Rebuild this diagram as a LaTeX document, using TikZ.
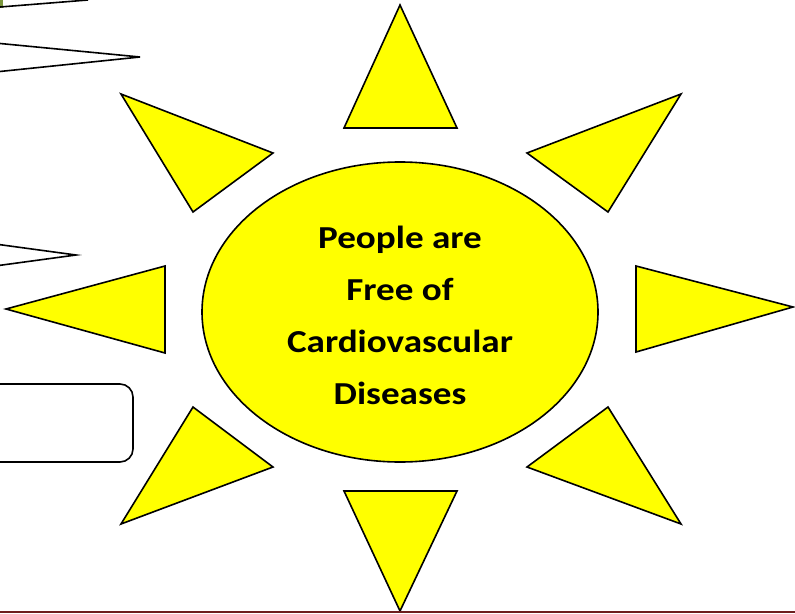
\documentclass[tikz,border=0pt]{standalone}
\usepackage{fontspec}
\setmainfont{Carlito}
\newfontfamily\sunfont[FakeStretch=1.16]{Carlito}
\usetikzlibrary{shapes.geometric}
\definecolor{sunyellow}{RGB}{255,255,0}
\definecolor{edgegreen}{RGB}{122,150,60}
\definecolor{rulered}{RGB}{110,30,30}
\begin{document}
\begin{tikzpicture}[x=1pt,y=-1pt,
  ray/.style={draw=black,fill=sunyellow,line width=1.6pt,line join=miter},
  outl/.style={draw=black,fill=white,line width=1.6pt},
  sunbody/.style={draw=black,fill=sunyellow,line width=1.6pt,ellipse,minimum width=396pt,minimum height=300pt,inner sep=0pt},
  sunlabel/.style={align=center,font=\sunfont\bfseries\fontsize{32}{52}\selectfont,text=black}]
\useasboundingbox (0,0) rectangle (795,613);
% partial shapes at the left edge
\fill[edgegreen] (0,0) rectangle (3,8);
\coordinate (tl1) at (0,7);
\coordinate (tl2) at (88,0);
\draw[line width=1.6pt] (tl1) -- (tl2);
\coordinate (a1) at (-5,43);
\coordinate (a2) at (140,57);
\coordinate (a3) at (-5,72);
\draw[outl] (a1) -- (a2) -- (a3);
\coordinate (b1) at (-5,244);
\coordinate (b2) at (76,255);
\coordinate (b3) at (-5,266);
\draw[outl] (b1) -- (b2) -- (b3);
\draw[outl,rounded corners=13pt] (-20,384) rectangle (133,462);
% rays
\draw[ray] (400,5) -- (457,128) -- (344,128) -- cycle;
\draw[ray] (681,94) -- (608,212) -- (527,153) -- cycle;
\draw[ray] (793,307) -- (636,352) -- (636,266) -- cycle;
\draw[ray] (681,524) -- (527,467) -- (608,407) -- cycle;
\draw[ray] (400,611) -- (344,491) -- (457,491) -- cycle;
\draw[ray] (121,524) -- (193,407) -- (273,467) -- cycle;
\draw[ray] (6,309) -- (165,266) -- (165,353) -- cycle;
\draw[ray] (121,94) -- (273,153) -- (193,212) -- cycle;
% sun body
\node[sunbody] (sun) at (400,312) {};
\node[sunlabel] (txt) at (400,315) {People are\\Free of\\Cardiovascular\\Diseases};
% bottom rule
\draw[draw=rulered,line width=1.5pt] (0,612) -- (795,612);
\end{tikzpicture}
\end{document}
